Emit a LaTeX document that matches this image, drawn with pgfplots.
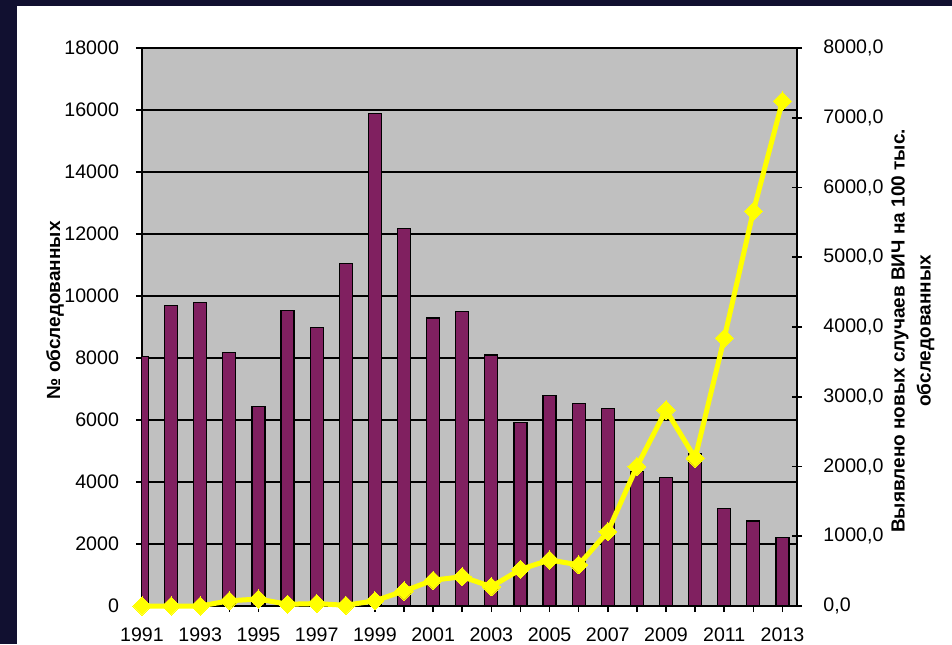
\documentclass[border=0pt]{standalone}
\usepackage{pgfplots}
\pgfplotsset{compat=1.18}
\usepackage{fontspec}
\setmainfont{Liberation Sans}
\definecolor{framec}{RGB}{17,16,48}
\definecolor{barc}{RGB}{128,32,96}
\definecolor{plotbg}{RGB}{192,192,192}
\definecolor{lineyel}{RGB}{255,255,0}
\newcommand{\tickfont}{\fontsize{9.8}{11.5}\selectfont}
\begin{document}
\begin{tikzpicture}
\fill[framec] (0,0) rectangle (476pt,322pt);
\fill[white] (8.5pt,0) rectangle (476pt,319pt);
\useasboundingbox (0,0) rectangle (476pt,322pt);
\begin{axis}[
  at={(71pt,19pt)}, anchor=south west,
  scale only axis, width=327.5pt, height=279pt,
  xmin=0, xmax=22.5, ymin=0, ymax=18000,
  axis y line*=left, axis x line*=bottom,
  axis line style={black, line width=0.8pt, -},
  axis background/.style={fill=plotbg},
  ytick={0,2000,...,18000},
  scaled y ticks=false,
  ymajorgrids, grid style={black, line width=0.8pt},
  xtick={0,...,22},
  xticklabels={1991,,1993,,1995,,1997,,1999,,2001,,2003,,2005,,2007,,2009,,2011,,2013},
  tick align=outside, major tick length=3pt,
  tick style={black, line width=0.8pt},
  /pgf/number format/assume math mode=true,
  /pgf/number format/.cd, fixed, precision=0, 1000 sep={},
  /pgfplots/.cd,
  tick label style={font=\tickfont},
  yticklabel style={xshift=-5pt},
  xticklabel style={yshift=-4.6pt},
  ylabel={№ обследованных},
  ylabel style={at={(axis description cs:-0.1328,0.530)}, anchor=center, font=\bfseries\fontsize{9.5}{11}\selectfont},
]
\addplot[ybar, bar width=6.5pt, fill=barc, draw=black, line width=0.6pt] coordinates {
(0,8050) (1,9700) (2,9800) (3,8190) (4,6430) (5,9520) (6,8980) (7,11050)
(8,15890) (9,12190) (10,9290) (11,9490) (12,8100) (13,5910) (14,6800)
(15,6540) (16,6380) (17,4350) (18,4150) (19,4930) (20,3150) (21,2740) (22,2220)
};
\end{axis}
\begin{axis}[
  at={(71pt,19pt)}, anchor=south west,
  scale only axis, width=327.5pt, height=279pt,
  xmin=0, xmax=22.5, ymin=0, ymax=8000,
  axis y line*=right, axis x line=none,
  axis line style={black, line width=0.8pt, -},
  ytick={0,1000,...,8000},
  scaled y ticks=false,
  clip=false,
  tick align=center, major tick length=5pt,
  tick style={black, line width=0.8pt},
  /pgf/number format/assume math mode=true,
  /pgf/number format/.cd, fixed, fixed zerofill, precision=1, use comma, 1000 sep={},
  /pgfplots/.cd,
  tick label style={font=\tickfont},
  yticklabel style={xshift=7.2pt},
  ylabel={Выявлено новых случаев ВИЧ на 100 тыс.\\обследованных},
  ylabel style={at={(axis description cs:1.177,0.493)}, anchor=center, align=center, font=\bfseries\fontsize{9.5}{13}\selectfont},
]
\addplot[lineyel, line width=2.5pt, mark=square*, mark size=3.2pt,
  mark options={rotate=45, fill=lineyel, draw=lineyel, line width=0pt}] coordinates {
(0,0) (1,0) (2,0) (3,75) (4,100) (5,25) (6,35) (7,10) (8,75) (9,215)
(10,370) (11,420) (12,277) (13,525) (14,660) (15,590) (16,1065) (17,2000)
(18,2810) (19,2120) (20,3840) (21,5660) (22,7240)
};
\end{axis}
\end{tikzpicture}
\end{document}
